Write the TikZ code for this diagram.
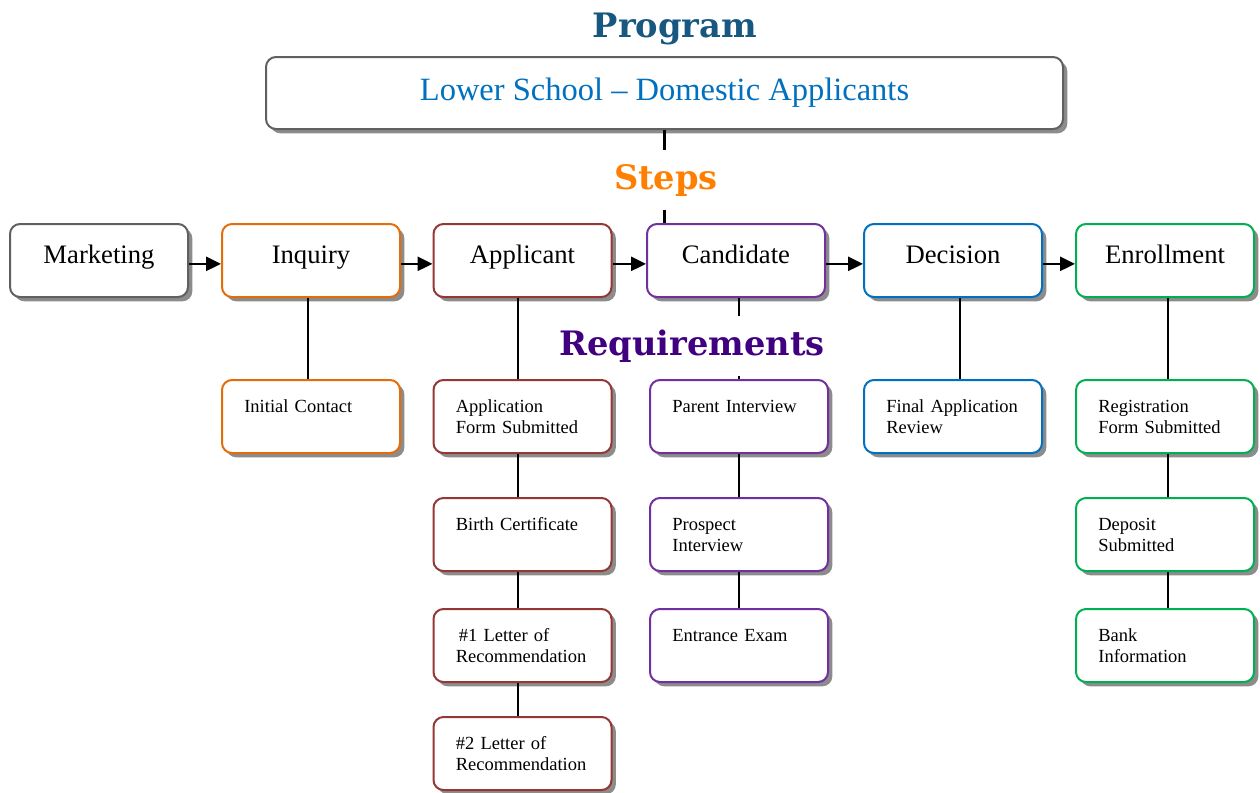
\documentclass[tikz,border=0pt]{standalone}
\usepackage{fontspec}
\setmainfont{Liberation Serif}
\newfontfamily\headfont{DejaVu Serif}
\usetikzlibrary{arrows.meta,shadows,positioning}
\definecolor{progBlue}{RGB}{24,88,128}
\definecolor{stepOrange}{RGB}{255,128,0}
\definecolor{reqPurple}{RGB}{64,0,128}
\definecolor{textBlue}{RGB}{0,112,192}
\definecolor{edgeGray}{RGB}{96,96,96}
\definecolor{inqOrange}{RGB}{228,108,10}
\definecolor{appRed}{RGB}{149,55,53}
\definecolor{candPurple}{RGB}{112,48,160}
\definecolor{decBlue}{RGB}{0,112,192}
\definecolor{enrGreen}{RGB}{0,176,80}

\begin{document}
\begin{tikzpicture}[x=0.6pt,y=-0.6pt,
  box/.style={draw,rounded corners=6pt,line width=1.2pt,fill=white,
    drop shadow={shadow xshift=2.6pt,shadow yshift=-2.6pt,fill=black!45,opacity=1}},
  stepbox/.style={box,minimum width=106.8pt,minimum height=43.8pt,inner sep=0pt,
    font=\fontsize{16}{19}\selectfont,text height=11pt,text depth=8pt},
  reqbox/.style={box,inner xsep=13.4pt,inner ysep=0pt,text width=80pt,align=left,
    font=\fontsize{11.1}{13}\selectfont,text height=19.2pt,text depth=24.6pt},
  head/.style={anchor=base,inner xsep=2pt,inner ysep=8pt,font=\headfont\bfseries\fontsize{20.2}{24}\selectfont},
  link/.style={line width=1.3pt},
  flow/.style={line width=1.3pt,-{Triangle[length=9pt,width=8.5pt]}}]

\useasboundingbox (0,0) rectangle (1260,792);

% program
\node[head,text=progBlue] (prg) at (675,37) {Program};
\node[box,draw=edgeGray,minimum width=478.2pt,minimum height=43.2pt,
  text=textBlue,font=\fontsize{19.5}{23}\selectfont] (top) at (664.5,93)
  {Lower School -- Domestic Applicants};

% steps
\node[head,text=stepOrange] (stp) at (666,189) {Steps};
\node[stepbox,draw=edgeGray]   (mkt)  at (99,260.5)   {Marketing};
\node[stepbox,draw=inqOrange]  (inq)  at (311,260.5)  {Inquiry};
\node[stepbox,draw=appRed]     (app)  at (522.5,260.5) {Applicant};
\node[stepbox,draw=candPurple] (cand) at (736,260.5)  {Candidate};
\node[stepbox,draw=decBlue]    (dec)  at (953,260.5)  {Decision};
\node[stepbox,draw=enrGreen]   (enr)  at (1165,260.5) {Enrollment};

% requirements
\node[head,text=reqPurple] (req) at (692,355) {Requirements};
\node[reqbox,draw=inqOrange]  (ic)  at (311,416.5)   {Initial Contact};
\node[reqbox,draw=appRed]     (afs) at (522.5,416.5) {Application\\Form Submitted};
\node[reqbox,draw=appRed]     (bc)  at (522.5,534.5) {Birth Certificate};
\node[reqbox,draw=appRed]     (lr1) at (522.5,645.5) {\,\#1 Letter of\\Recommendation};
\node[reqbox,draw=appRed]     (lr2) at (522.5,753.5) {\#2 Letter of\\Recommendation};
\node[reqbox,draw=candPurple] (pi)  at (739,416.5)   {Parent Interview};
\node[reqbox,draw=candPurple] (pr)  at (739,534.5)   {Prospect\\Interview};
\node[reqbox,draw=candPurple] (ee)  at (739,645.5)   {Entrance Exam};
\node[reqbox,draw=decBlue]    (far) at (953,416.5)   {Final Application\\Review};
\node[reqbox,draw=enrGreen]   (rfs) at (1165,416.5)  {Registration\\Form Submitted};
\node[reqbox,draw=enrGreen]   (dep) at (1165,534.5)  {Deposit\\Submitted};
\node[reqbox,draw=enrGreen]   (bnk) at (1165,645.5)  {Bank\\Information};

% program -> steps -> candidate
\draw[link] (top.south) -- (top.south |- stp.north);
\draw[link] (top.south |- stp.south) -- (top.south |- cand.north);

% arrows along the steps
\draw[flow] ([yshift=-2pt]mkt.east) -- ([yshift=-2pt]inq.west);
\draw[flow] ([yshift=-2pt]inq.east) -- ([yshift=-2pt]app.west);
\draw[flow] ([yshift=-2pt]app.east) -- ([yshift=-2pt]cand.west);
\draw[flow] ([yshift=-2pt]cand.east) -- ([yshift=-2pt]dec.west);
\draw[flow] ([yshift=-2pt]dec.east) -- ([yshift=-2pt]enr.west);

% steps down to their requirements
\draw[link] ([xshift=-1.8pt]inq.south) -- ([xshift=-1.8pt]ic.north);
\draw[link] ([xshift=-2.7pt]app.south) -- ([xshift=-2.7pt]afs.north);
\draw[link] ([xshift=-2.7pt]afs.south) -- ([xshift=-2.7pt]bc.north);
\draw[link] ([xshift=-2.7pt]bc.south) -- ([xshift=-2.7pt]lr1.north);
\draw[link] ([xshift=-2.7pt]lr1.south) -- ([xshift=-2.7pt]lr2.north);
\draw[link] (pi.north |- cand.south) -- (pi.north |- req.north);
\draw[link] (pi.north |- req.south) -- (pi.north);
\draw[link] (pi.south) -- (pr.north);
\draw[link] (pr.south) -- (ee.north);
\draw[link] ([xshift=4.2pt]dec.south) -- ([xshift=4.2pt]far.north);
\draw[link] ([xshift=1.8pt]enr.south) -- ([xshift=1.8pt]rfs.north);
\draw[link] ([xshift=1.8pt]rfs.south) -- ([xshift=1.8pt]dep.north);
\draw[link] ([xshift=1.8pt]dep.south) -- ([xshift=1.8pt]bnk.north);
\end{tikzpicture}
\end{document}
